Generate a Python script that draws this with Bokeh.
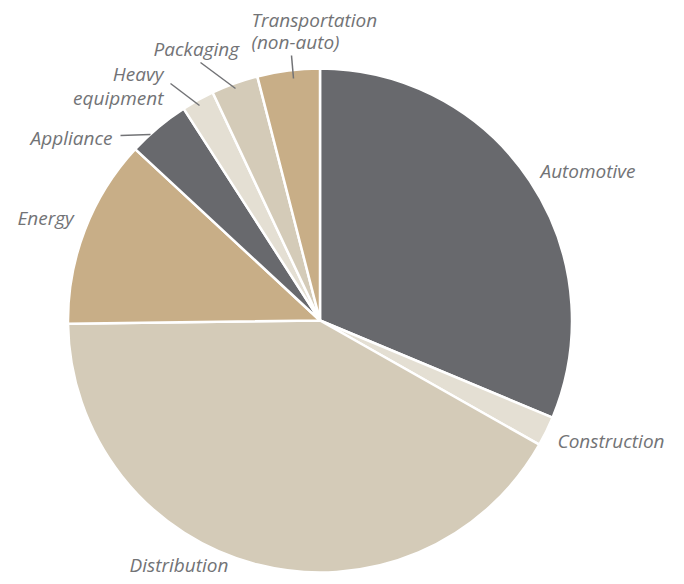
import numpy as np
from bokeh.plotting import figure
from bokeh.models import Range1d, ColumnDataSource
from bokeh.core.properties import value
from bokeh.embed import file_html
from bokeh.resources import INLINE

# ---- data (share of total, %) clockwise from 12 o'clock ----
segments = ["Automotive", "Construction", "Distribution", "Energy",
            "Appliance", "Heavy equipment", "Packaging", "Transportation (non-auto)"]
shares = [31.3, 1.9, 41.6, 12.1, 4.0, 2.1, 3.0, 4.0]
colors = ["#68696d", "#e4dfd3", "#d4cbb8", "#c8ae87",
          "#68696d", "#e4dfd3", "#d4cbb8", "#c8ae87"]

# ---- layout (picture pixels) ----
W, H = 676, 576
CX, CY, R = 319.5, 320.0, 252.0

def py(y):
    return H - y  # picture y -> data y

p = figure(width=W, height=H, output_backend="svg", toolbar_location=None,
           x_range=Range1d(0, W), y_range=Range1d(0, H), min_border=0)
p.axis.visible = False
p.grid.visible = False
p.outline_line_color = None
p.background_fill_color = "white"
p.border_fill_color = "white"

vals = np.array(shares, dtype=float)
frac = vals / vals.sum()
cum = np.concatenate([[0], np.cumsum(frac)])
start = np.pi / 2 - cum[:-1] * 2 * np.pi
end = np.pi / 2 - cum[1:] * 2 * np.pi

src = ColumnDataSource(dict(start=start, end=end, color=colors, name=segments))
p.wedge(x=CX, y=py(CY), radius=R, start_angle="start", end_angle="end",
        direction="clock", fill_color="color", line_color="white",
        line_width=2.5, source=src)

label_color = "#727376"
font = value("Open Sans")

# labels: (text, x, y(picture), align)
labels = [
    ("Automotive", 540, 170, "left"),
    ("Construction", 557, 440, "left"),
    ("Distribution", 129, 564, "left"),
    ("Energy", 17, 217, "left"),
    ("Appliance", 112, 137, "right"),
    ("Heavy", 163, 73, "right"),
    ("equipment", 163, 97, "right"),
    ("Packaging", 153, 48, "left"),
    ("Transportation", 251, 19, "left"),
    ("(non-auto)", 251, 41, "left"),
]
for t, x, y, a in labels:
    p.text(x=[x], y=[py(y)], text=[t], text_font=font, text_font_style="italic",
           text_font_size="19px", text_color=label_color, text_align=a,
           text_baseline="middle")

leaders = [
    ((120, 135), (150, 134)),
    ((170, 83), (199, 105)),
    ((200, 62), (235, 88)),
    ((291, 55), (293, 78)),
]
for (x0, y0), (x1, y1) in leaders:
    p.line([x0, x1], [py(y0), py(y1)], line_color=label_color, line_width=1.5)

open("out.html", "w").write(file_html(p, INLINE))
